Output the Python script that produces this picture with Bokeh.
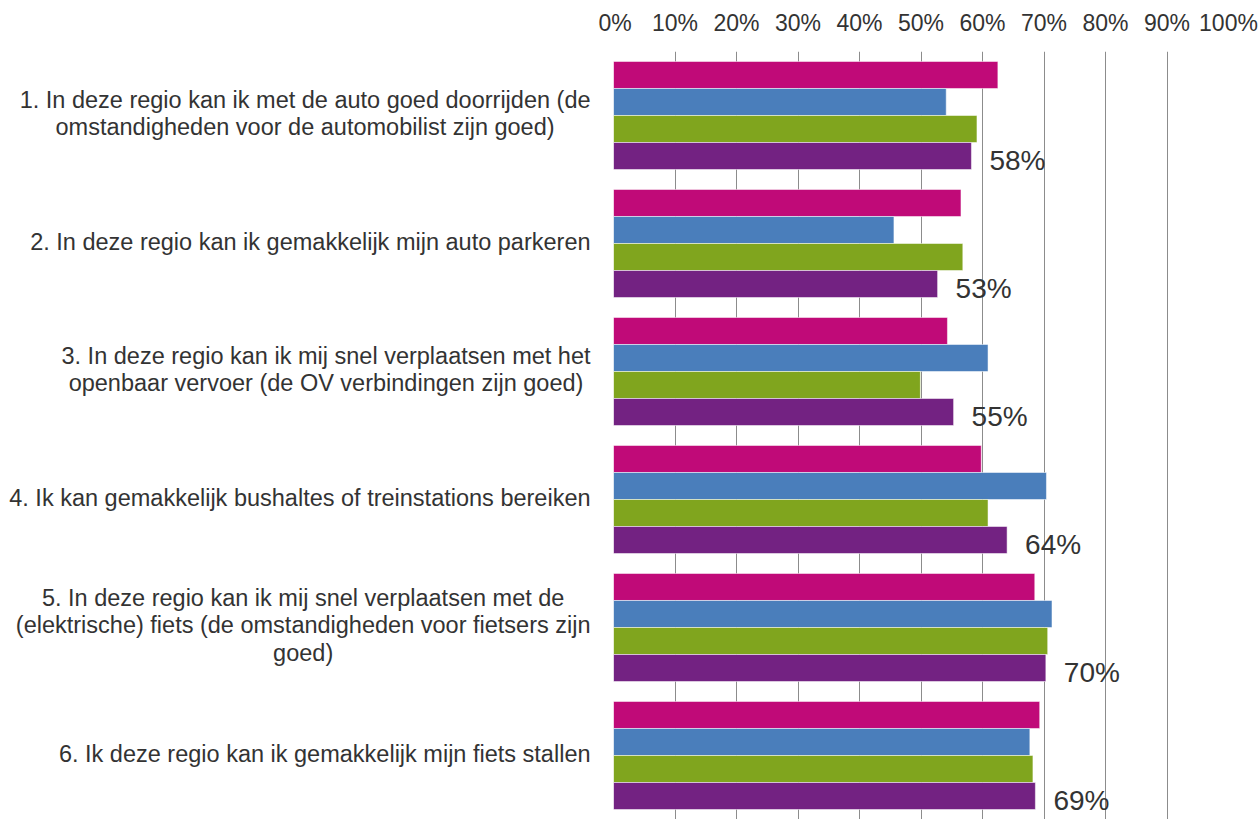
from bokeh.plotting import figure
from bokeh.layouts import row
from bokeh.models import FixedTicker, PrintfTickFormatter, ColumnDataSource, Range1d, FactorRange
from bokeh.transform import dodge
from bokeh.core.properties import value
from bokeh.embed import file_html
from bokeh.resources import INLINE

categories = [
    "1. In deze regio kan ik met de auto goed doorrijden (de\nomstandigheden voor de automobilist zijn goed)",
    "2. In deze regio kan ik gemakkelijk mijn auto parkeren",
    "3. In deze regio kan ik mij snel verplaatsen met het\nopenbaar vervoer (de OV verbindingen zijn goed)",
    "4. Ik kan gemakkelijk bushaltes of treinstations bereiken",
    "5. In deze regio kan ik mij snel verplaatsen met de\n(elektrische) fiets (de omstandigheden voor fietsers zijn\ngoed)",
    "6. Ik deze regio kan ik gemakkelijk mijn fiets stallen",
]
series_magenta = [62.5, 56.5, 54.3, 59.8, 68.5, 69.3]
series_blue = [54.1, 45.6, 60.9, 70.4, 71.3, 67.7]
series_green = [59.1, 56.8, 49.9, 60.9, 70.6, 68.2]
series_purple = [58.2, 52.7, 55.3, 64.0, 70.3, 68.6]
value_labels = ["58%", "53%", "55%", "64%", "70%", "69%"]
x_ticks = [0, 10, 20, 30, 40, 50, 60, 70, 80, 90, 100]

FONT = "'Liberation Sans', Arial, sans-serif"
TEXT = "#333333"
CAT_PX = 23.5
CAT_GAP = 23          # gap between label block and plot frame
MAIN_BORDER = 15      # room on the chart's left for the centred "0%" tick label
LEFT_W = 613 - MAIN_BORDER

# Arial / Liberation Sans advance widths (per 1000 em): used to place each label block
# so that its lines are centred and its widest line ends next to the plot frame
_W = {" ": 278, ".": 278, "(": 333, ")": 333, "%": 889}
_W.update({d: 556 for d in "0123456789"})
_W.update(dict(a=556, b=556, c=500, d=556, e=556, f=278, g=556, h=556, i=222, j=222, k=500,
               l=222, m=833, n=556, o=556, p=556, q=556, r=333, s=500, t=278, u=556, v=500,
               w=722, x=500, y=500, z=500, I=278, O=778, V=667))


def block_width(label, px):
    return max(sum(_W.get(ch, 556) for ch in line) for line in label.split("\n")) / 1000.0 * px


src = ColumnDataSource(dict(
    cat=categories,
    magenta=series_magenta,
    blue=series_blue,
    green=series_green,
    purple=series_purple,
    lab=value_labels,
    zero=[0] * len(categories),
    catoff=[-((CAT_GAP - MAIN_BORDER) + block_width(c, CAT_PX) / 2.0) for c in categories],
))

yr = FactorRange(*list(reversed(categories)), range_padding=0)

# ---- main chart
p = figure(
    frame_width=615, frame_height=768,
    y_range=yr, x_range=Range1d(0, 100),
    x_axis_location="above",
    output_backend="svg", toolbar_location=None,
    min_border_left=MAIN_BORDER, min_border_right=30, min_border_top=51, min_border_bottom=0,
)
p.outline_line_color = None

bh = 0.211
offsets = [1.5 * bh, 0.5 * bh, -0.5 * bh, -1.5 * bh]
cols = ["magenta", "blue", "green", "purple"]
colors = ["#C00A78", "#4A7EBB", "#80A51E", "#732282"]
for c, off, colr in zip(cols, offsets, colors):
    p.hbar(y=dodge("cat", off, range=yr), left=0, right=c, height=bh,
           source=src, fill_color=colr, line_color="white", line_alpha=0.5, line_width=1)

p.text(x="purple", y=dodge("cat", -1.5 * bh, range=yr), text="lab", source=src,
       x_offset=18, y_offset=4, text_baseline="middle", text_align="left",
       text_font=value(FONT), text_font_size="28px", text_color=TEXT)

xa = p.xaxis[0]
xa.ticker = FixedTicker(ticks=x_ticks)
xa.formatter = PrintfTickFormatter(format="%d%%")
xa.major_tick_in = 0
xa.major_tick_out = 0
xa.minor_tick_in = 0
xa.minor_tick_out = 0
xa.axis_line_color = None
xa.major_label_standoff = 16
xa.major_label_text_font = FONT
xa.major_label_text_font_size = "23px"
xa.major_label_text_color = TEXT

p.yaxis.visible = False
p.xgrid.grid_line_color = "#8c8c8c"
p.xgrid.grid_line_width = 1
p.ygrid.grid_line_color = None

# ---- category label column (shares the y range of the chart)
lp = figure(
    frame_width=LEFT_W, frame_height=768,
    y_range=yr, x_range=Range1d(-LEFT_W, 0),
    output_backend="svg", toolbar_location=None,
    min_border_left=0, min_border_right=0, min_border_top=51, min_border_bottom=0,
)
lp.outline_line_color = None
lp.axis.visible = False
lp.grid.grid_line_color = None
lp.text(x="zero", y="cat", text="cat", source=src, x_offset="catoff", y_offset=-2,
        text_baseline="middle", text_align="center", text_line_height=1.07,
        text_font=value(FONT), text_font_size=f"{CAT_PX}px", text_color=TEXT)

layout = row(lp, p, spacing=0)
open("out.html", "w").write(file_html(layout, INLINE))
